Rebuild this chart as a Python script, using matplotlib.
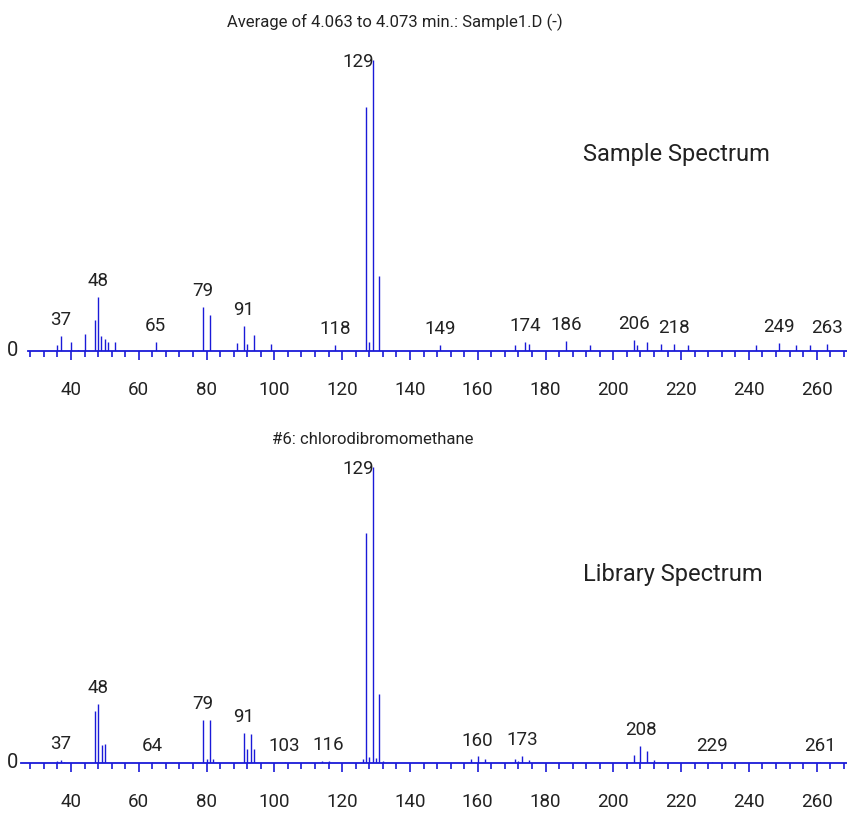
import matplotlib.pyplot as plt
from matplotlib.ticker import MultipleLocator

plt.rcParams['font.family'] = ['Roboto', 'DejaVu Sans']

# sample spectrum (averaged scan), relative abundance in %
sample_mz = [36, 37, 40, 42, 44, 47, 48, 49, 50, 51, 53, 65, 79, 81, 89, 91, 92, 94, 99,
             118, 127, 128, 129, 131, 149, 171, 174, 175, 186, 193, 206, 207, 210, 214,
             218, 222, 242, 249, 254, 258, 263]
sample_int = [2.0, 5.2, 3.0, 0.4, 5.8, 10.8, 18.7, 5.2, 4.2, 3.0, 3.0, 3.0, 15.1, 12.4, 2.8,
              8.6, 2.5, 5.5, 2.5, 2.2, 84.0, 3.1, 100.0, 25.8, 2.0, 2.2, 3.1, 2.3, 3.4, 1.9,
              3.8, 2.2, 3.0, 2.4, 2.4, 2.2, 2.0, 2.6, 2.0, 2.0, 2.3]
sample_labels = [37, 48, 65, 79, 91, 118, 129, 149, 174, 186, 206, 218, 249, 263]

# library spectrum
library_mz = [36, 37, 38, 47, 48, 49, 50, 64, 79, 80, 81, 82, 91, 92, 93, 94, 103, 114, 116,
              126, 127, 128, 129, 130, 131, 132, 158, 160, 162, 171, 172, 173, 175,
              206, 208, 210, 212, 229, 261]
library_int = [0.6, 1.0, 0.4, 17.5, 20.0, 6.0, 6.3, 0.3, 14.4, 1.3, 14.4, 1.3, 10.0, 4.8, 9.7,
               4.5, 0.3, 0.5, 0.7, 1.3, 77.6, 2.0, 100.0, 1.5, 23.3, 0.5, 1.2, 2.1, 1.2, 1.2,
               0.5, 2.2, 1.0, 2.7, 5.6, 4.0, 0.9, 0.3, 0.3]
library_labels = [37, 48, 64, 79, 91, 103, 116, 129, 160, 173, 208, 229, 261]

W, H = 847, 814
BLUE = '#1a1ad8'
TEXT = '#222222'

fig = plt.figure(figsize=(W / 100, H / 100), dpi=100)


def spectrum(left, base, top, xmin, mz, inten, labels):
    # axes placed in pixel units of the figure
    ax = fig.add_axes([left / W, 1 - base / H, (W - left) / W, (base - top) / H])
    ax.vlines(mz, 0, inten, color=BLUE, lw=1.0)
    ax.set_xlim(xmin, 268.94)
    ax.set_ylim(0, 100)
    for s in ['left', 'top', 'right']:
        ax.spines[s].set_visible(False)
    ax.spines['bottom'].set_color(BLUE)
    ax.spines['bottom'].set_linewidth(1.3)
    ax.set_yticks([])
    ax.xaxis.set_major_locator(MultipleLocator(20))
    ax.xaxis.set_minor_locator(MultipleLocator(4))
    ax.tick_params(axis='x', which='major', direction='out', length=6.5, width=1.2,
                   color=BLUE, labelsize=13.5, labelcolor=TEXT, pad=15)
    ax.tick_params(axis='x', which='minor', direction='out', length=4, width=1.2, color=BLUE)
    ax.set_xticks(range(40, 261, 20))
    top_i = max(range(len(inten)), key=lambda k: inten[k])
    for m in labels:
        k = mz.index(m)
        if k == top_i:
            ax.annotate(str(m), (m + 0.4, inten[k]), xytext=(0, 5), textcoords='offset points',
                        ha='right', va='top', fontsize=13.5, color=TEXT, annotation_clip=False)
        else:
            ax.annotate(str(m), (m, inten[k]), xytext=(0, 5), textcoords='offset points',
                        ha='center', va='bottom', fontsize=13.5, color=TEXT,
                        annotation_clip=False)
    fig.text(13 / W, 1 - base / H, '0', ha='center', va='center', fontsize=14.5, color=TEXT)
    return ax


spectrum(27.7, 351, 60, 27.23, sample_mz, sample_int, sample_labels)
spectrum(20.7, 762.7, 467, 25.16, library_mz, library_int, library_labels)

fig.text(394.5 / W, 1 - 22 / H, 'Average of 4.063 to 4.073 min.: Sample1.D (-)', ha='center',
         va='center', fontsize=12, color=TEXT)
fig.text(373 / W, 1 - 440 / H, '#6: chlorodibromomethane', ha='center', va='center',
         fontsize=12, color=TEXT)
fig.text(583 / W, 1 - 155 / H, 'Sample Spectrum', ha='left', va='center', fontsize=17,
         color=TEXT)
fig.text(583 / W, 1 - 575 / H, 'Library Spectrum', ha='left', va='center', fontsize=17,
         color=TEXT)

fig.savefig('out.png', dpi=100)
